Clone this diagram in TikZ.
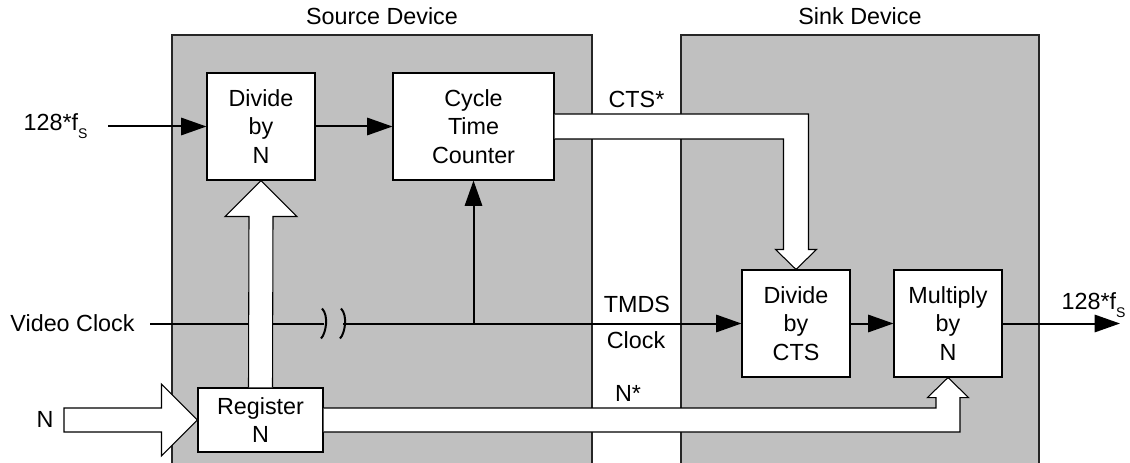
\documentclass[tikz,border=0pt]{standalone}
\usepackage{fontspec}
\setmainfont{Liberation Sans}
\usetikzlibrary{arrows.meta,calc}
\definecolor{panelgray}{RGB}{192,192,192}
\newcommand{\fsamp}{128*f\raisebox{-6pt}{\fontsize{10.5pt}{10.5pt}\selectfont S}}

\begin{document}
\begin{tikzpicture}[x=0.75pt,y=-0.75pt,
    font=\fontsize{17.5pt}{21.4pt}\selectfont,
    blk/.style={draw=black,fill=white,line width=0.8pt,align=center,inner sep=0pt,
      minimum width=81pt,minimum height=80.25pt},
    sig/.style={line width=1.5pt},
    arr/.style={sig,-{Triangle[length=19pt,width=13pt]}},
    bus/.style={draw=black,fill=white,line width=0.8pt,line join=miter},
    panel/.style={draw=black!85,line width=1.1pt}]
  \useasboundingbox (0,0) rectangle (1130,463);
  % source and sink panels
  \fill[panelgray] (172,35) rectangle (592,470);
  \draw[panel] (172,470) -- (172,35) -- (592,35) -- (592,470);
  \fill[panelgray] (681,35) rectangle (1039,470);
  \draw[panel] (681,470) -- (681,35) -- (1039,35) -- (1039,470);
  \node[anchor=base] (srclbl) at (382,25) {Source Device};
  \node[anchor=base] (sinklbl) at (860,25) {Sink Device};
  % blocks
  \node[blk] (divN) at (261,126.5) {Divide\\by\\N};
  \node[blk,minimum width=120.75pt] (ctc) at (473.5,126.5) {Cycle\\Time\\Counter};
  \node[blk] (divCTS) at (796,323.5) {Divide\\by\\CTS};
  \node[blk] (mult) at (948,323.5) {Multiply\\by\\N};
  \node[blk,minimum width=93.75pt,minimum height=48pt] (reg) at (260.5,420) {Register\\N};
  % outside labels
  \node[anchor=base] (fsin) at (55.5,131) {\fsamp};
  \node[anchor=base] (fsout) at (1093.5,309) {\fsamp};
  \node[anchor=base] (vc) at (72.5,331) {Video Clock};
  \node[anchor=base] (nlbl) at (45,427) {N};
  \node[anchor=base] (ctslbl) at (636.5,108) {CTS*};
  \node[anchor=base] (tmds) at (637,312) {TMDS};
  \node[anchor=base] (clk) at (636,348) {Clock};
  \node[anchor=base] (nstar) at (628,401) {N*};
  \coordinate (fsinend) at (108,126.5);
  \coordinate (fsoutend) at (1120,323.5);
  \coordinate (vcin) at (150,323.5);
  \coordinate (brkA) at (324,323.5);
  \coordinate (brkB) at (343,323.5);
  \coordinate (tap) at (ctc.south |- divCTS.west);
  \coordinate (nin) at (64,420);
  \coordinate (ctsx) at (divCTS.north |- ctc.east);
  \coordinate (multx) at (mult.south |- reg.east);
  % clock path with break
  \draw[sig] (vcin) -- (brkA);
  \draw[arr] (brkB) -- (divCTS.west);
  \draw[sig] ($(brkA)+(-2,-15)$) .. controls ($(brkA)+(5,-8)$) and ($(brkA)+(2,10)$) .. ($(brkA)+(-3,15)$);
  \draw[sig] ($(brkB)+(-2,-15)$) .. controls ($(brkB)+(5,-8)$) and ($(brkB)+(2,10)$) .. ($(brkB)+(-3,15)$);
  \draw[arr] (tap) -- (ctc.south);
  \draw[arr] (fsinend) -- (divN.west);
  \draw[arr] (divN.east) -- (ctc.west);
  \draw[arr] (divCTS.east) -- (mult.west);
  \draw[arr] (mult.east) -- (fsoutend);
  % wide buses
  \draw[bus] ($(nin)+(0,-12)$) -- ($(reg.west)+(-36,-12)$) -- ($(reg.west)+(-36,-36)$) -- (reg.west)
    -- ($(reg.west)+(-36,36)$) -- ($(reg.west)+(-36,12)$) -- ($(nin)+(0,12)$) -- cycle;
  \draw[bus] ($(reg.north)+(-12,0)$) -- ($(divN.south)+(-12,36)$) -- ($(divN.south)+(-36,36)$) -- (divN.south)
    -- ($(divN.south)+(36,36)$) -- ($(divN.south)+(12,36)$) -- ($(reg.north)+(12,0)$);
  \draw[bus] ($(ctc.east)+(0,-12.5)$) -- ($(ctsx)+(12.5,-12.5)$) -- ($(divCTS.north)+(12.5,-20)$)
    -- ($(divCTS.north)+(20.5,-20)$) -- (divCTS.north) -- ($(divCTS.north)+(-20.5,-20)$)
    -- ($(divCTS.north)+(-12.5,-20)$) -- ($(ctsx)+(-12.5,12.5)$) -- ($(ctc.east)+(0,12.5)$);
  \draw[bus] ($(reg.east)+(0,-12)$) -- ($(multx)+(-12,-12)$) -- ($(mult.south)+(-12,20)$)
    -- ($(mult.south)+(-20.5,20)$) -- (mult.south) -- ($(mult.south)+(20.5,20)$)
    -- ($(mult.south)+(12,20)$) -- ($(multx)+(12,12)$) -- ($(reg.east)+(0,12)$);
\end{tikzpicture}
\end{document}
